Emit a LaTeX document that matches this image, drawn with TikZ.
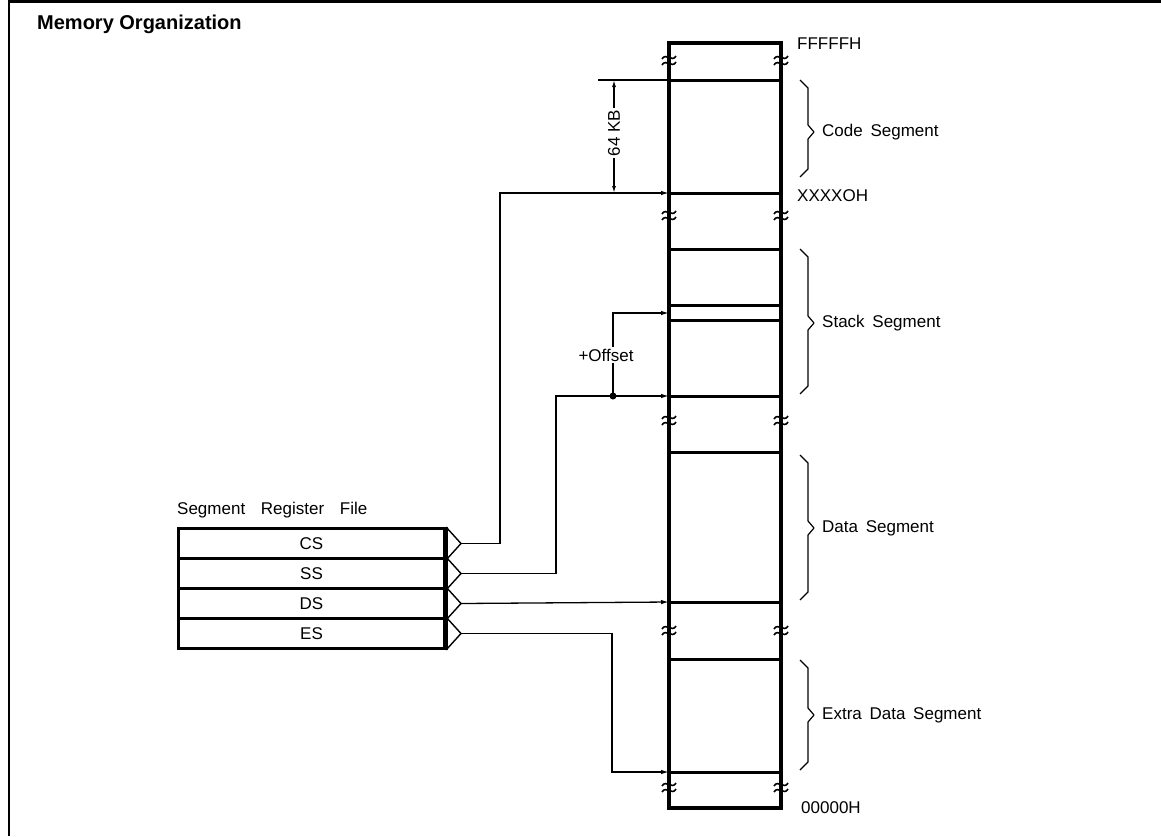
\documentclass[tikz,border=0pt]{standalone}
\usepackage{fontspec}
\setmainfont{Liberation Sans}
\usetikzlibrary{arrows.meta}
\begin{document}
\begin{tikzpicture}[x=1pt,y=-1pt,
  lbl/.style={font=\fontsize{17}{20}\selectfont, inner sep=0pt},
  thinline/.style={line width=1.3pt},
  wall/.style={line width=3.4pt},
  sepline/.style={line width=3pt},
  arr/.style={thinline,-{Latex[length=8pt,width=4.5pt]}},
  brk/.style={line width=1.6pt},
  brc/.style={line width=1.2pt, line join=round},
  reg/.style={draw, line width=3pt, minimum width=266pt, minimum height=30pt,
              anchor=north west, inner sep=0pt, font=\fontsize{17}{20}\selectfont},
  tri/.style={line width=1.4pt},
]
\useasboundingbox (0,0) rectangle (1161,836);
% frame
\draw[line width=3.5pt] (9,1.5) -- (1161,1.5);
\draw[line width=1.8pt] (9,0) -- (9,836);
% title
\node[anchor=base west, font=\bfseries\fontsize{20}{24}\selectfont, inner sep=0pt] (title) at (37,29) {Memory Organization};

% memory column
\draw[wall] (669,43) rectangle (781,808);
\foreach \yy in {80,193,249,305,320,396,452,602,659,772}
  \draw[sepline] (669,\yy) -- (781,\yy);
% break marks
\foreach \yy in {60,215,420,630,787}
  \foreach \xx in {669,781} {
    \draw[brk] (\xx-7,\yy-1) .. controls (\xx-3,\yy-8) and (\xx+3,\yy+3) .. (\xx+7,\yy-4);
    \draw[brk] (\xx-7,\yy+5) .. controls (\xx-3,\yy-2) and (\xx+3,\yy+9) .. (\xx+7,\yy+2);
  }

% address labels
\node[lbl, anchor=west] (ftop) at (797,44) {FFFFFH};
\node[lbl, anchor=west] (xaddr) at (797,196) {XXXXOH};
\node[lbl, anchor=west] (zbot) at (801,808) {00000H};

% braces
\foreach \ya/\ym/\yb in {80/132/177, 249/323/394, 455/528/600, 660/715/770} {
  \draw[brc] (800,\ya) -- (808,\ya+8) -- (808,\ym-7) -- (814,\ym) -- (808,\ym+7) -- (808,\yb-8) -- (800,\yb);
}
\node[lbl, anchor=west] (lcode) at (822,132) {Code\hspace{3pt} Segment};
\node[lbl, anchor=west] (lstack) at (822,323) {Stack\hspace{3pt} Segment};
\node[lbl, anchor=west] (ldata) at (822,528) {Data\hspace{3pt} Segment};
\node[lbl, anchor=west] (lextra) at (822,715) {Extra\hspace{3pt} Data\hspace{3pt} Segment};

% register file
\node[lbl, anchor=west] (rftitle) at (177,510) {Segment\hspace{11pt} Register\hspace{11pt} File};
\node[reg] (rcs) at (177,527) {CS};
\node[reg] (rss) at (177,557) {SS};
\node[reg] (rds) at (177,587) {DS};
\node[reg] (res) at (177,617) {ES};
\draw[line width=3.6pt] (rcs.north east) -- (res.south east);
\foreach \r in {cs,ss,ds,es} {
  \draw[tri] (r\r.north east) -- ([xshift=15pt]r\r.east) coordinate (t\r) -- (r\r.south east);
}

% connector points
\coordinate (cstop) at (500,193);
\coordinate (csin) at (669,193);
\coordinate (ssbot) at (556,396);
\coordinate (ofs) at (613,396);
\coordinate (ssin) at (669,396);
\coordinate (offin) at (669,313);
\coordinate (dsin) at (669,602);
\coordinate (esbot) at (612,772);
\coordinate (esin) at (669,772);

% CS
\draw[arr] (tcs) -| (cstop) -- (csin);
% SS
\draw[arr] (tss) -| (ssbot) -- (ssin);
\fill (ofs) circle (3.5pt);
\draw[arr] (ofs) |- (offin);
\node[lbl, fill=white, inner sep=2pt] (offlbl) at (606,355) {+Offset};
% DS
\draw[arr] (tds) -- (dsin);
% ES
\draw[arr] (tes) -| (esbot) -- (esin);

% 64 KB dimension
\coordinate (ext1) at (598,80);
\coordinate (ext1b) at (669,80);
\draw[thinline] (ext1) -- (ext1b);
\coordinate (dimtop) at (614,80);
\coordinate (dimbot) at (614,193);
\draw[thinline, {Latex[length=7pt,width=4pt]}-{Latex[length=7pt,width=4pt]}] (dimtop) -- (dimbot);
\node[lbl, fill=white, inner sep=2pt, rotate=90] (kb) at (614,133) {64 KB};
\end{tikzpicture}
\end{document}
